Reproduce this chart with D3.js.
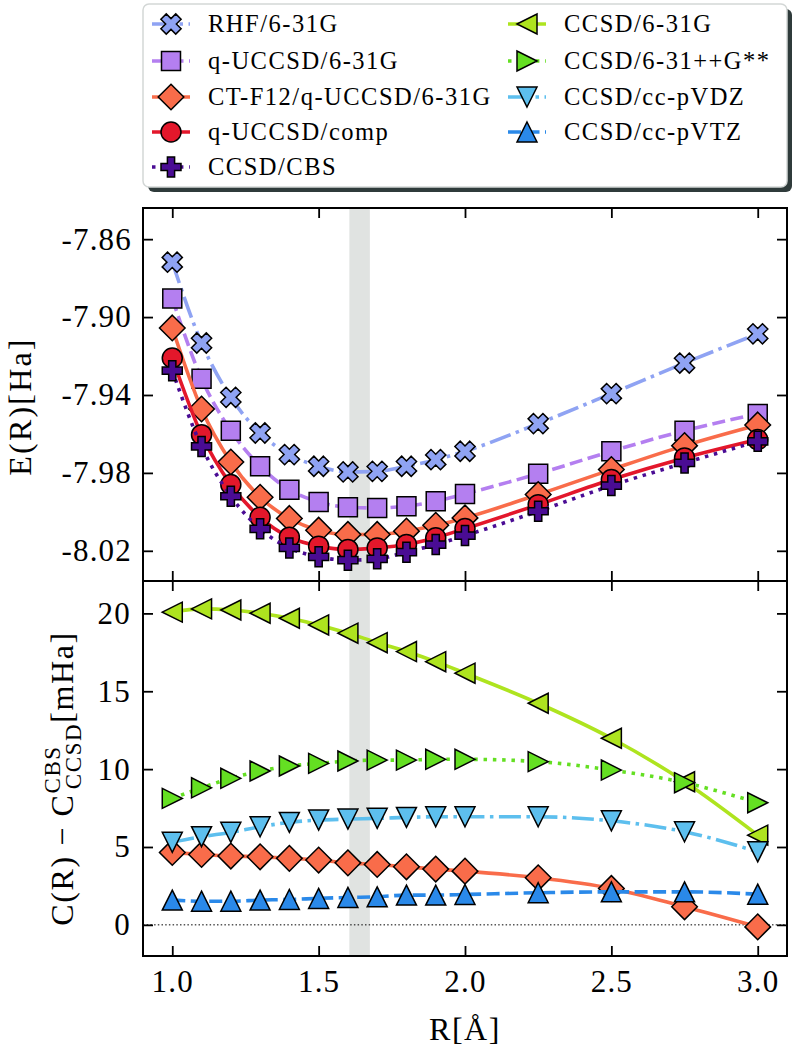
<!DOCTYPE html>
<html><head><meta charset="utf-8">
<script src="https://cdn.jsdelivr.net/npm/d3@7"></script>
<style>body{margin:0;background:#fff} svg{display:block} text{font-family:"Liberation Serif","DejaVu Serif",serif;fill:#000}</style>
</head><body><svg id="c" width="797" height="1053"></svg>
<script>
// ---------- data ----------
const R = [1.0,1.1,1.2,1.3,1.4,1.5,1.6,1.7,1.8,1.9,2.0,2.25,2.5,2.75,3.0];
// top panel: E(R) [Ha]
const eRHF     = [-7.8718,-7.9133,-7.9412,-7.9595,-7.9706,-7.9766,-7.9795,-7.9792,-7.9766,-7.9732,-7.9689,-7.9547,-7.9393,-7.9236,-7.9086];
const eQUCCSD  = [-7.8905,-7.9316,-7.9583,-7.9766,-7.9886,-7.9949,-7.9976,-7.9980,-7.9971,-7.9946,-7.9908,-7.9804,-7.9689,-7.9583,-7.9497];
const eCTF12   = [-7.9056,-7.9472,-7.9744,-7.9925,-8.0034,-8.0094,-8.0116,-8.0116,-8.0099,-8.0069,-8.0031,-7.9911,-7.9783,-7.9660,-7.9554];
const eComp    = [-7.9210,-7.9604,-7.9860,-8.0028,-8.0130,-8.0176,-8.0193,-8.0185,-8.0168,-8.0133,-8.0086,-7.9963,-7.9834,-7.9723,-7.9629];
const eCBS     = [-7.9275,-7.9664,-7.9920,-8.0087,-8.0185,-8.0231,-8.0248,-8.0241,-8.0207,-8.0168,-8.0122,-7.9997,-7.9865,-7.9749,-7.9638];
// bottom panel: C(R) - C_CCSD^CBS [mHa]
const dCTF12   = [4.65,4.52,4.42,4.37,4.27,4.16,3.98,3.88,3.73,3.58,3.45,3.02,2.34,1.16,-0.13];
const d631G    = [20.08,20.29,20.22,20.01,19.69,19.26,18.73,18.12,17.55,16.90,16.16,14.23,11.98,9.19,5.76];
const d631ppG  = [8.12,8.80,9.41,9.88,10.20,10.37,10.52,10.58,10.58,10.63,10.63,10.48,9.94,9.13,7.84];
const dVDZ     = [5.30,5.66,5.94,6.30,6.58,6.73,6.79,6.84,6.90,6.94,6.94,6.94,6.68,5.98,4.69];
const dVTZ     = [1.59,1.52,1.52,1.59,1.63,1.70,1.76,1.80,1.91,1.91,1.95,2.06,2.12,2.12,1.97];

const xTicks = [1.0,1.5,2.0,2.5,3.0];
const yTopTicks = [-7.86,-7.90,-7.94,-7.98,-8.02];
const yBotTicks = [0,5,10,15,20];
const band = [1.605,1.675];

const labels = ["RHF/6-31G","q-UCCSD/6-31G","CT-F12/q-UCCSD/6-31G","q-UCCSD/comp","CCSD/CBS",
                "CCSD/6-31G","CCSD/6-31++G**","CCSD/cc-pVDZ","CCSD/cc-pVTZ"];

// ---------- styles ----------
const ST = {
  "RHF/6-31G":            {c:"#8fa3f3", m:"X",  dash:"22,5.5,3.5,5.5"},
  "q-UCCSD/6-31G":        {c:"#b47ff0", m:"s",  dash:"13,5.5"},
  "CT-F12/q-UCCSD/6-31G": {c:"#f96c4a", m:"D",  dash:null},
  "q-UCCSD/comp":         {c:"#e3172b", m:"o",  dash:null},
  "CCSD/CBS":             {c:"#4a0c94", m:"P",  dash:"3.5,5.8"},
  "CCSD/6-31G":           {c:"#aee41f", m:"<",  dash:null},
  "CCSD/6-31++G**":       {c:"#64df22", m:">",  dash:"3.5,5.8"},
  "CCSD/cc-pVDZ":         {c:"#5dbfee", m:"v",  dash:"22,5.5,3.5,5.5"},
  "CCSD/cc-pVTZ":         {c:"#2a89e9", m:"^",  dash:"13,5.5"}
};

function markerPath(m){
  const p = pts => "M"+pts.map(q=>q[0].toFixed(2)+","+q[1].toFixed(2)).join("L")+"Z";
  if(m==="s"){const a=9.5;return p([[-a,-a],[a,-a],[a,a],[-a,a]]);}
  if(m==="D"){const a=12.8;return p([[0,-a],[a,0],[0,a],[-a,0]]);}
  if(m==="o"){const r=10;return `M${r},0A${r},${r} 0 1,1 ${-r},0A${r},${r} 0 1,1 ${r},0Z`;}
  const r=10;
  if(m==="^") return p([[0,-r],[r,r],[-r,r]]);
  if(m==="v") return p([[0,r],[r,-r],[-r,-r]]);
  if(m==="<") return p([[-r,0],[r,-r],[r,r]]);
  if(m===">") return p([[r,0],[-r,-r],[-r,r]]);
  if(m==="P"||m==="X"){
    const L=10, a=3.6;
    let pts=[[-a,-L],[a,-L],[a,-a],[L,-a],[L,a],[a,a],[a,L],[-a,L],[-a,a],[-L,a],[-L,-a],[-a,-a]];
    if(m==="X"){const c=Math.SQRT1_2;pts=pts.map(([u,v])=>[(u-v)*c*1.05,(u+v)*c*1.05]);}
    return p(pts);
  }
}

// ---------- layout ----------
const svg = d3.select("#c");
const L=143, Rr=787, T1=208, B1=581, B2=956;
const x  = d3.scaleLinear().domain([0.9,3.1]).range([L,Rr]);
const y1 = d3.scaleLinear().domain([-8.0355,-7.844]).range([B1,T1]);
const y2 = d3.scaleLinear().domain([-2,22.08]).range([B2,B1]);

// shaded band
svg.append("rect").attr("x",x(band[0])).attr("y",T1).attr("width",x(band[1])-x(band[0]))
   .attr("height",B2-T1).attr("fill","#e0e3e1");

// zero line
svg.append("line").attr("x1",L).attr("x2",Rr).attr("y1",y2(0)).attr("y2",y2(0))
   .attr("stroke","#000").attr("stroke-width",1).attr("stroke-dasharray","1.5,2.2");

function drawSeries(g, name, vals, ys){
  const s = ST[name];
  const data = R.map((r,i)=>[r,vals[i]]);
  const line = d3.line().x(d=>x(d[0])).y(d=>ys(d[1])).curve(d3.curveMonotoneX);
  g.append("path").attr("d",line(data)).attr("fill","none").attr("stroke",s.c)
   .attr("stroke-width",3.6).attr("stroke-dasharray",s.dash);
  g.selectAll(null).data(data).enter().append("path")
   .attr("d",markerPath(s.m)).attr("transform",d=>`translate(${x(d[0])},${ys(d[1])})`)
   .attr("fill",s.c).attr("stroke","#000").attr("stroke-width",1.5).attr("stroke-linejoin","miter");
}

const gTop = svg.append("g");
gTop.append("clipPath").attr("id","ct").append("rect").attr("x",L).attr("y",T1).attr("width",Rr-L).attr("height",B1-T1);
const gT = gTop.append("g").attr("clip-path","url(#ct)");
drawSeries(gT,"RHF/6-31G",eRHF,y1);
drawSeries(gT,"q-UCCSD/6-31G",eQUCCSD,y1);
drawSeries(gT,"CT-F12/q-UCCSD/6-31G",eCTF12,y1);
drawSeries(gT,"q-UCCSD/comp",eComp,y1);
drawSeries(gT,"CCSD/CBS",eCBS,y1);

const gBot = svg.append("g");
gBot.append("clipPath").attr("id","cb").append("rect").attr("x",L).attr("y",B1).attr("width",Rr-L).attr("height",B2-B1);
const gB = gBot.append("g").attr("clip-path","url(#cb)");
drawSeries(gB,"CT-F12/q-UCCSD/6-31G",dCTF12,y2);
drawSeries(gB,"CCSD/6-31G",d631G,y2);
drawSeries(gB,"CCSD/6-31++G**",d631ppG,y2);
drawSeries(gB,"CCSD/cc-pVDZ",dVDZ,y2);
drawSeries(gB,"CCSD/cc-pVTZ",dVTZ,y2);

// ---------- axes ----------
const FS = 31, TK = 10, LS = 1.2;
function styleAxis(g, showLabels){
  g.select(".domain").remove();
  g.selectAll(".tick line").attr("stroke","#000").attr("stroke-width",1.8);
  g.selectAll(".tick text").attr("font-size",FS).attr("font-family","'Liberation Serif',serif")
   .attr("letter-spacing",LS);
  if(!showLabels) g.selectAll(".tick text").remove();
}
const fmtTop = v => (v<0?"-":"")+Math.abs(v).toFixed(2);
// top panel
svg.append("g").attr("transform",`translate(${L},0)`)
  .call(d3.axisLeft(y1).tickValues(yTopTicks).tickFormat(fmtTop).tickSizeInner(-TK).tickPadding(11))
  .call(g=>styleAxis(g,true));
svg.append("g").attr("transform",`translate(${Rr},0)`)
  .call(d3.axisRight(y1).tickValues(yTopTicks).tickSizeInner(-TK)).call(g=>styleAxis(g,false));
svg.append("g").attr("transform",`translate(0,${T1})`)
  .call(d3.axisTop(x).tickValues(xTicks).tickSizeInner(-TK)).call(g=>styleAxis(g,false));
svg.append("g").attr("transform",`translate(0,${B1})`)
  .call(d3.axisBottom(x).tickValues(xTicks).tickSizeInner(-TK)).call(g=>styleAxis(g,false));
// bottom panel
svg.append("g").attr("transform",`translate(${L},0)`)
  .call(d3.axisLeft(y2).tickValues(yBotTicks).tickFormat(d3.format("d")).tickSizeInner(-TK).tickPadding(12))
  .call(g=>styleAxis(g,true));
svg.append("g").attr("transform",`translate(${Rr},0)`)
  .call(d3.axisRight(y2).tickValues(yBotTicks).tickSizeInner(-TK)).call(g=>styleAxis(g,false));
svg.append("g").attr("transform",`translate(0,${B1})`)
  .call(d3.axisTop(x).tickValues(xTicks).tickSizeInner(-TK)).call(g=>styleAxis(g,false));
svg.append("g").attr("transform",`translate(0,${B2})`)
  .call(d3.axisBottom(x).tickValues(xTicks).tickFormat(d3.format(".1f")).tickSizeInner(-TK).tickPadding(14))
  .call(g=>styleAxis(g,true));

// frames
[[T1,B1],[B1,B2]].forEach(([a,b])=>svg.append("rect").attr("x",L).attr("y",a).attr("width",Rr-L)
  .attr("height",b-a).attr("fill","none").attr("stroke","#000").attr("stroke-width",2));

// axis labels
svg.append("text").attr("transform",`translate(31,${(T1+B1)/2+12}) rotate(-90)`)
  .attr("text-anchor","middle").attr("font-size",32).attr("letter-spacing",2.2).text("E(R)[Ha]");
const yl = svg.append("text").attr("transform",`translate(73,${(B1+B2)/2+10}) rotate(-90)`)
  .attr("text-anchor","middle").attr("font-size",32).attr("letter-spacing",1.6);
yl.append("tspan").text("C(R) \u2212 C");
yl.append("tspan").attr("font-size",23).attr("dy",-13).text("CBS");
yl.append("tspan").attr("font-size",23).attr("dx",-44).attr("dy",21).text("CCSD");
yl.append("tspan").attr("dy",-8).text("[mHa]");
svg.append("text").attr("x",(L+Rr)/2).attr("y",1040).attr("text-anchor","middle")
  .attr("font-size",32).attr("letter-spacing",1.5).text("R[\u00C5]");

// ---------- legend ----------
const lg = svg.append("g");
lg.append("rect").attr("x",148).attr("y",9).attr("width",644).attr("height",183).attr("rx",6)
  .attr("fill","#2f3b3b");
lg.append("rect").attr("x",143).attr("y",4).attr("width",644).attr("height",183).attr("rx",6)
  .attr("fill","#fff").attr("stroke","#d3d7d6").attr("stroke-width",1.5);
const rowY = [24,61,97,132,167];
labels.forEach((name,i)=>{
  const col = i<5?0:1, row = i<5?i:i-5;
  const mx = col===0?171:527, ty = rowY[row];
  const s = ST[name];
  lg.append("line").attr("x1",mx-19).attr("x2",mx+19).attr("y1",ty).attr("y2",ty)
    .attr("stroke",s.c).attr("stroke-width",3.6).attr("stroke-dasharray",s.dash);
  lg.append("path").attr("d",markerPath(s.m)).attr("transform",`translate(${mx},${ty})`)
    .attr("fill",s.c).attr("stroke","#000").attr("stroke-width",1.5);
  lg.append("text").attr("x",mx+37).attr("y",ty+8).attr("font-size",24.5).attr("letter-spacing",1.5).text(name);
});
</script></body></html>
